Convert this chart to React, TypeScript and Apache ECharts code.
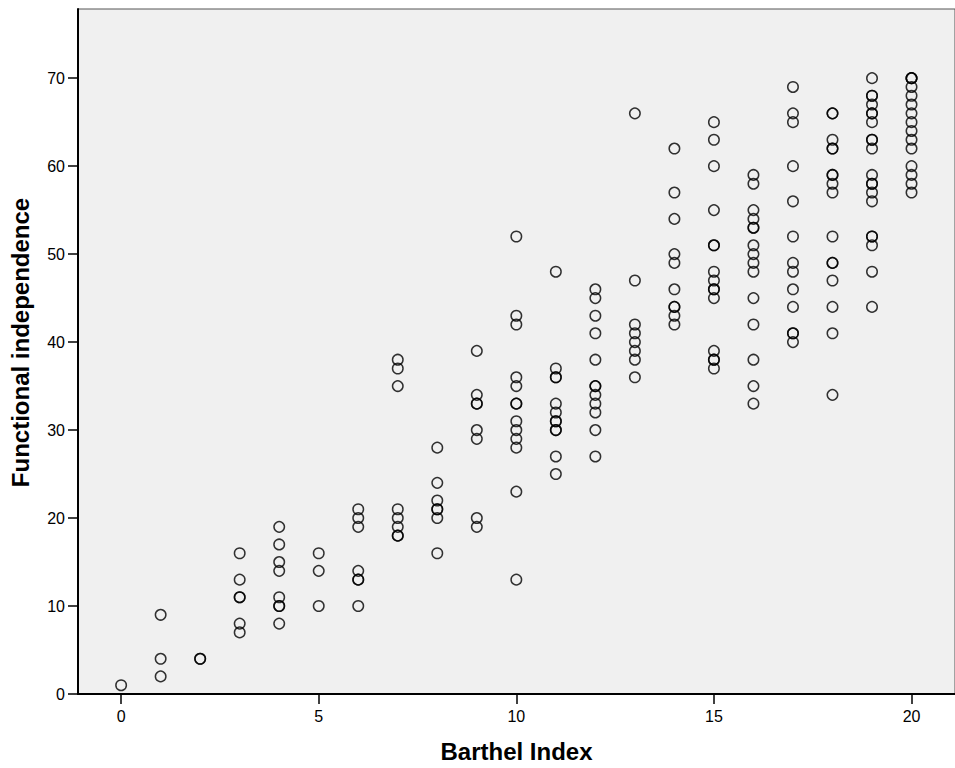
import React, { useEffect, useRef } from "react";
import * as echarts from "echarts";

const barthelIndex = [0, 1, 2, 3, 4, 5, 6, 7, 8, 9, 10, 11, 12, 13, 14, 15, 16, 17, 18, 19, 20];
const functionalIndependence: number[][] = [
  [1],
  [9, 4, 2],
  [4, 4],
  [16, 13, 11, 11, 8, 7],
  [19, 17, 15, 14, 11, 10, 10, 8],
  [16, 14, 10],
  [21, 20, 19, 14, 13, 13, 10],
  [38, 37, 35, 21, 20, 19, 18, 18],
  [28, 24, 22, 21, 21, 20, 16],
  [39, 34, 33, 33, 30, 29, 20, 19],
  [52, 43, 42, 36, 35, 33, 33, 31, 30, 29, 28, 23, 13],
  [48, 37, 36, 36, 33, 32, 31, 31, 30, 30, 27, 25],
  [46, 45, 43, 41, 38, 35, 35, 34, 33, 32, 30, 27],
  [66, 47, 42, 41, 40, 39, 38, 36],
  [62, 57, 54, 50, 49, 46, 44, 44, 43, 42],
  [65, 63, 60, 55, 51, 51, 48, 47, 46, 46, 45, 39, 38, 38, 37],
  [59, 58, 55, 54, 53, 53, 51, 50, 49, 48, 45, 42, 38, 35, 33],
  [69, 66, 65, 60, 56, 52, 49, 48, 46, 44, 41, 41, 40],
  [66, 66, 63, 62, 62, 59, 59, 58, 57, 52, 49, 49, 47, 44, 41, 34],
  [70, 68, 68, 67, 66, 66, 65, 63, 63, 62, 59, 58, 58, 57, 56, 52, 52, 51, 48, 44],
  [70, 70, 70, 69, 68, 67, 66, 65, 64, 63, 62, 60, 59, 58, 57],
];
const xTicks = [0, 5, 10, 15, 20];
const yTicks = [0, 10, 20, 30, 40, 50, 60, 70];
const xTitle = "Barthel Index";
const yTitle = "Functional independence";

const FONT = 'Arial, "Liberation Sans", Helvetica, sans-serif';

export default function App() {
  const ref = useRef<HTMLDivElement>(null);
  useEffect(() => {
    document.body.style.margin = "0";
    if (!ref.current) return;
    const chart = echarts.init(ref.current, undefined, { renderer: "svg" });
    const points: number[][] = [];
    barthelIndex.forEach((b, i) => {
      functionalIndependence[i].forEach((v) => points.push([b, v]));
    });
    chart.setOption({
      animation: false,
      backgroundColor: "#ffffff",
      grid: {
        left: 76,
        top: 9,
        right: -2,
        bottom: 72,
        show: true,
        backgroundColor: "#f0f0f0",
        borderColor: "#555555",
        borderWidth: 1,
      },
      xAxis: {
        type: "value",
        min: -1.091,
        max: 21.1,
        name: xTitle,
        nameLocation: "middle",
        nameGap: 45,
        nameTextStyle: { fontFamily: FONT, fontWeight: "bold", fontSize: 24, color: "#000" },
        splitLine: { show: false },
        axisLine: { show: true, onZero: false, lineStyle: { color: "#000", width: 2 } },
        axisTick: { show: true, customValues: xTicks, length: 10, lineStyle: { color: "#000", width: 1.5 } },
        axisLabel: { customValues: xTicks, margin: 14, fontFamily: FONT, fontSize: 16, color: "#000" },
      },
      yAxis: {
        type: "value",
        min: 0,
        max: 77.86,
        name: yTitle,
        nameLocation: "middle",
        nameGap: 46,
        nameRotate: 90,
        nameTextStyle: {
          fontFamily: FONT,
          fontWeight: "bold",
          fontSize: 24,
          color: "#000",
          padding: [0, 0, 0, 18],
        },
        splitLine: { show: false },
        axisLine: { show: true, onZero: false, lineStyle: { color: "#000", width: 2 } },
        axisTick: { show: true, customValues: yTicks, length: 10, lineStyle: { color: "#000", width: 1.5 } },
        axisLabel: { customValues: yTicks, margin: 13, fontFamily: FONT, fontSize: 16, color: "#000" },
      },
      series: [
        {
          type: "scatter",
          data: points,
          symbol: "circle",
          symbolSize: 10.5,
          itemStyle: { color: "rgba(0,0,0,0)", borderColor: "#000", borderWidth: 1.5 },
          emphasis: { disabled: true },
        },
      ],
    });
    return () => chart.dispose();
  }, []);
  return <div ref={ref} style={{ width: 955, height: 768 }} />;
}
